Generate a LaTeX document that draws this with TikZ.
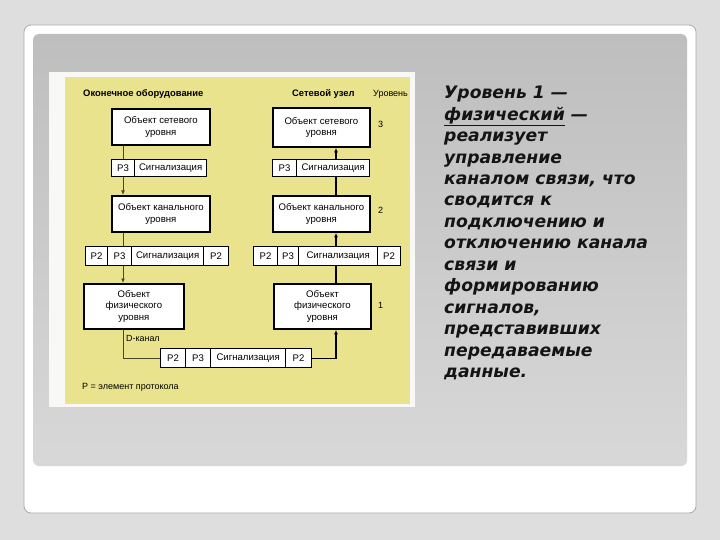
\documentclass[tikz,border=0pt]{standalone}
\usepackage{fontspec}
\setmainfont{Liberation Sans}
\newfontfamily\rtfont{DejaVu Sans}
\usetikzlibrary{arrows.meta}
\definecolor{bgc}{HTML}{DEDEDE}
\definecolor{frameC}{HTML}{A9A9A9}
\definecolor{innerTop}{HTML}{BEBEBE}
\definecolor{innerBot}{HTML}{D8D8D8}
\definecolor{panelY}{HTML}{E8E38C}
\definecolor{panelW}{HTML}{F8F8F6}
\definecolor{leftLine}{HTML}{4A4628}
\definecolor{txtC}{HTML}{141414}
\tikzset{
  diafont/.style={font=\fontsize{9.6}{11.5}\selectfont},
  bigbox/.style={draw=black, line width=1.8pt, fill=white, align=center, inner sep=0pt, anchor=north west, diafont},
  cell/.style={draw=black, line width=1.2pt, fill=white, inner sep=0pt, anchor=north west, diafont},
  lline/.style={draw=leftLine, line width=0.8pt},
  rline/.style={draw=black, line width=1.2pt},
  tip/.style={-{Latex[length=4.5pt,width=3.8pt]}},
  hdr/.style={anchor=west, inner sep=0pt, font=\fontsize{9}{10}\selectfont},
  lvl/.style={anchor=west, inner sep=0pt, font=\fontsize{9}{10}\selectfont}
}
\begin{document}
\begin{tikzpicture}[x=1pt,y=-1pt]
\useasboundingbox (0,0) rectangle (720,540);
\fill[bgc] (0,0) rectangle (720,540);
\draw[draw=frameC, fill=white, line width=0.8pt, rounded corners=7pt] (24,25) rectangle (696,513);
\shade[top color=innerTop, bottom color=innerBot, rounded corners=6pt] (33,34) rectangle (687,466);
% panel
\fill[panelW] (49,72) rectangle (415,407);
\fill[panelY] (65,77) rectangle (410,404);
% headers
\node[hdr, font=\fontsize{9.4}{10}\selectfont\bfseries] (h1) at (83,94) {Оконечное оборудование};
\node[hdr, font=\fontsize{9.4}{10}\selectfont\bfseries] (h2) at (292,94) {Сетевой узел};
\node[hdr] (h3) at (373,94) {Уровень};
% left column
\node[bigbox, minimum width=98pt, minimum height=36pt] (lnet) at (111,108) {Объект сетевого\\уровня};
\node[cell, minimum width=23pt, minimum height=17pt] (lp3a) at (111,159) {P3};
\node[cell, minimum width=72pt, minimum height=17pt] (lp3b) at (134,159) {Сигнализация};
\node[bigbox, minimum width=98pt, minimum height=36pt] (lch) at (111,195) {Объект канального\\уровня};
\node[cell, minimum width=22pt, minimum height=19pt] (lp2a) at (85,246) {P2};
\node[cell, minimum width=24pt, minimum height=19pt] (lp2b) at (107,246) {P3};
\node[cell, minimum width=72pt, minimum height=19pt] (lp2c) at (131,246) {Сигнализация};
\node[cell, minimum width=25pt, minimum height=19pt] (lp2d) at (203,246) {P2};
\node[bigbox, minimum width=100pt, minimum height=45pt] (lph) at (83,283) {Объект\\физического\\уровня};
% right column
\node[bigbox, minimum width=97pt, minimum height=39pt] (rnet) at (272,107) {Объект сетевого\\уровня};
\node[cell, minimum width=24pt, minimum height=17pt] (rp3a) at (272,159) {P3};
\node[cell, minimum width=73pt, minimum height=17pt] (rp3b) at (296,159) {Сигнализация};
\node[bigbox, minimum width=97pt, minimum height=36pt] (rch) at (272,195) {Объект канального\\уровня};
\node[cell, minimum width=24pt, minimum height=19pt] (rp2a) at (253,246) {P2};
\node[cell, minimum width=21pt, minimum height=19pt] (rp2b) at (277,246) {P3};
\node[cell, minimum width=79pt, minimum height=19pt] (rp2c) at (298,246) {Сигнализация};
\node[cell, minimum width=23pt, minimum height=19pt] (rp2d) at (377,246) {P2};
\node[bigbox, minimum width=97pt, minimum height=45pt] (rph) at (273,283) {Объект\\физического\\уровня};
% level numbers
\node[lvl] (n3) at (378,124) {3};
\node[lvl] (n2) at (378,210) {2};
\node[lvl] (n1) at (378,305) {1};
% bottom strip
\node[cell, minimum width=25pt, minimum height=19pt] (bp2a) at (160,348) {P2};
\node[cell, minimum width=25pt, minimum height=19pt] (bp3) at (185,348) {P3};
\node[cell, minimum width=75pt, minimum height=19pt] (bsig) at (210,348) {Сигнализация};
\node[cell, minimum width=26pt, minimum height=19pt] (bp2d) at (285,348) {P2};
\node[hdr, font=\fontsize{8.9}{10}\selectfont] (dk) at (126,338) {D-канал};
\node[hdr] (leg) at (82,387) {P = элемент протокола};
% connectors
\coordinate (lx) at (123,0);
\coordinate (rx) at (336,0);
\draw[lline] (lnet.south -| lx) -- (lp3a.north -| lx);
\draw[lline, tip] (lp3a.south -| lx) -- (lch.north -| lx);
\draw[lline] (lch.south -| lx) -- (lp2b.north -| lx);
\draw[lline, tip] (lp2b.south -| lx) -- (lph.north -| lx);
\draw[lline] (lph.south -| lx) |- (bp2a.west);
\draw[rline, tip] (rp3b.north -| rx) -- (rnet.south -| rx);
\draw[rline] (rch.north -| rx) -- (rp3b.south -| rx);
\draw[rline, tip] (rp2c.north -| rx) -- (rch.south -| rx);
\draw[rline] (rph.north -| rx) -- (rp2c.south -| rx);
\draw[rline, tip] (bp2d.east) -| (rph.south -| rx);
% right text
\node[anchor=north west, inner sep=0pt, align=left, text=txtC,
      font=\rtfont\bfseries\itshape\fontsize{17.2}{21.45}\selectfont] (desc) at (444,86)
{Уровень 1 —\\
\underline{физический} —\\
реализует\\
управление\\
каналом связи, что\\
сводится к\\
подключению и\\
отключению канала\\
связи и\\
формированию\\
сигналов,\\
представивших\\
передаваемые\\
данные.};
\end{tikzpicture}
\end{document}
